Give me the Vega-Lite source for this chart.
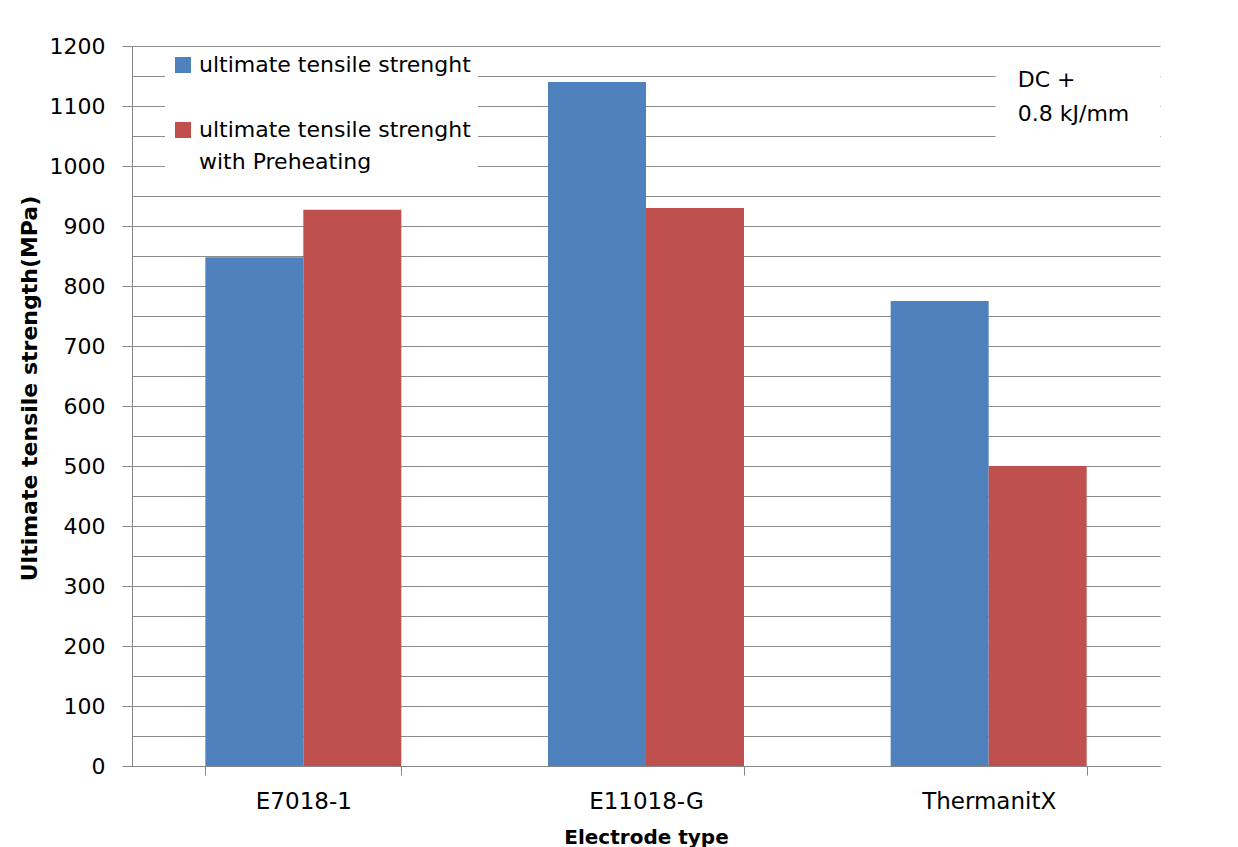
{
  "$schema": "https://vega.github.io/schema/vega-lite/v6.json",
  "width": 1028,
  "height": 720,
  "autosize": "none",
  "padding": {"left": 132, "top": 46, "right": 78, "bottom": 81},
  "background": "white",
  "config": {"view": {"stroke": null}, "font": "DejaVu Sans", "style": {"guide-label": {"lineHeight": 32}}},
  "datasets": {
    "bars": [
      {"type": "E7018-1", "series": "ultimate tensile strenght", "value": 848},
      {"type": "E7018-1", "series": "ultimate tensile strenght with Preheating", "value": 927},
      {"type": "E11018-G", "series": "ultimate tensile strenght", "value": 1140},
      {"type": "E11018-G", "series": "ultimate tensile strenght with Preheating", "value": 930},
      {"type": "ThermanitX", "series": "ultimate tensile strenght", "value": 775},
      {"type": "ThermanitX", "series": "ultimate tensile strenght with Preheating", "value": 500}
    ],
    "note": [{"x1": 2.52, "x2": 3.0, "y1": 1177, "y2": 1027}],
    "noteText": [
      {"x": 2.585, "y": 1143, "t": "DC +"},
      {"x": 2.585, "y": 1087, "t": "0.8 kJ/mm"}
    ]
  },
  "layer": [
    {
      "data": {"name": "bars"},
      "mark": {"type": "bar"},
      "encoding": {
        "x": {
          "field": "type", "type": "nominal", "sort": null,
          "scale": {"paddingInner": 0.428, "paddingOuter": 0.214},
          "axis": {
            "title": "Electrode type", "labelAngle": 0, "tickBand": "extent",
            "tickSize": 9, "tickColor": "#868686", "domainColor": "#868686",
            "labelFontSize": 23, "labelColor": "black", "labelPadding": 15,
            "titleFontSize": 20, "titleFontWeight": "bold", "titleColor": "black",
            "titlePadding": 14, "grid": false
          }
        },
        "xOffset": {"field": "series", "sort": null},
        "y": {
          "field": "value", "type": "quantitative",
          "scale": {"domain": [0, 1200], "nice": false},
          "axis": {
            "values": [0,50,100,150,200,250,300,350,400,450,500,550,600,650,700,750,800,850,900,950,1000,1050,1100,1150,1200],
            "format": "d",
            "title": "Ultimate  tensile strength(MPa)",
            "titleFontSize": 22, "titleFontWeight": "bold", "titleColor": "black", "titlePadding": 8, "titleY": 342,
            "labelFontSize": 22, "labelColor": "black", "labelPadding": 17,
            "labelExpr": "datum.value % 100 == 0 ? datum.label : ''",
            "tickSize": {"condition": {"test": "datum.value % 100 != 0", "value": 0}, "value": 10},
            "tickColor": "#868686",
            "domainColor": "#868686", "grid": true,
            "gridColor": "#8c8c8c"
          }
        },
        "color": {
          "field": "series", "type": "nominal", "sort": null,
          "scale": {"range": ["#4F81BD", "#C0504D"]},
          "legend": {
            "title": null, "orient": "none", "legendX": 33, "legendY": 1,
            "padding": 7, "fillColor": "white",
            "symbolType": "square", "symbolSize": 256, "symbolStrokeWidth": 0,
            "symbolOpacity": 1,
            "labelFontSize": 22, "labelColor": "black", "labelOffset": 5,
            "labelLimit": 400, "rowPadding": 43,
            "labelExpr": "datum.label == 'ultimate tensile strenght with Preheating' ? ['ultimate tensile strenght', 'with Preheating'] : datum.label"
          }
        }
      }
    },
    {
      "data": {"name": "note"},
      "mark": {"type": "rect", "fill": "white"},
      "encoding": {
        "x": {"field": "x1", "type": "quantitative", "scale": {"domain": [0, 3], "nice": false}, "axis": null},
        "x2": {"field": "x2"},
        "y": {
          "field": "y1", "type": "quantitative",
          "axis": {
            "values": [0,50,100,150,200,250,300,350,400,450,500,550,600,650,700,750,800,850,900,950,1000,1050,1100,1150,1200],
            "format": "d",
            "title": "Ultimate  tensile strength(MPa)",
            "titleFontSize": 22, "titleFontWeight": "bold", "titleColor": "black", "titlePadding": 8, "titleY": 342,
            "labelFontSize": 22, "labelColor": "black", "labelPadding": 17,
            "labelExpr": "datum.value % 100 == 0 ? datum.label : ''",
            "tickSize": {"condition": {"test": "datum.value % 100 != 0", "value": 0}, "value": 10},
            "tickColor": "#868686",
            "domainColor": "#868686", "grid": true,
            "gridColor": "#8c8c8c"
          }
        },
        "y2": {"field": "y2"}
      }
    },
    {
      "data": {"name": "noteText"},
      "mark": {"type": "text", "align": "left", "baseline": "middle", "fontSize": 22, "color": "black"},
      "encoding": {
        "x": {"field": "x", "type": "quantitative", "scale": {"domain": [0, 3], "nice": false}, "axis": null},
        "y": {
          "field": "y", "type": "quantitative",
          "axis": {
            "values": [0,50,100,150,200,250,300,350,400,450,500,550,600,650,700,750,800,850,900,950,1000,1050,1100,1150,1200],
            "format": "d",
            "title": "Ultimate  tensile strength(MPa)",
            "titleFontSize": 22, "titleFontWeight": "bold", "titleColor": "black", "titlePadding": 8, "titleY": 342,
            "labelFontSize": 22, "labelColor": "black", "labelPadding": 17,
            "labelExpr": "datum.value % 100 == 0 ? datum.label : ''",
            "tickSize": {"condition": {"test": "datum.value % 100 != 0", "value": 0}, "value": 10},
            "tickColor": "#868686",
            "domainColor": "#868686", "grid": true,
            "gridColor": "#8c8c8c"
          }
        },
        "text": {"field": "t"}
      }
    }
  ],
  "resolve": {"scale": {"x": "independent"}, "axis": {"x": "independent"}}
}
